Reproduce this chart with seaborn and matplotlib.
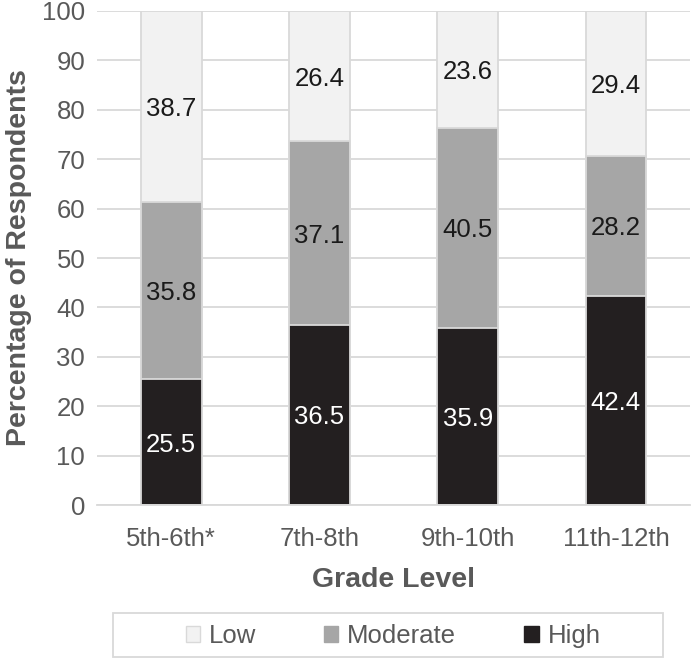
import numpy as np
import pandas as pd
import matplotlib
matplotlib.use('Agg')
import matplotlib.pyplot as plt
from matplotlib.patches import Patch, Rectangle
import seaborn as sns

# Data
grades = ['5th-6th*', '7th-8th', '9th-10th', '11th-12th']
high = [25.5, 36.5, 35.9, 42.4]
moderate = [35.8, 37.1, 40.5, 28.2]
low = [38.7, 26.4, 23.6, 29.4]

sns.set_style('white')
plt.rcParams['font.family'] = ['Liberation Sans', 'DejaVu Sans']

df = pd.DataFrame({'grade': grades, 'high': high, 'moderate': moderate, 'low': low})
df['mod_top'] = df['high'] + df['moderate']
df['low_top'] = df['mod_top'] + df['low']

c_low, c_mod, c_high = '#f2f2f2', '#a6a6a6', '#231f20'
edge = '#d9d9d9'
grey_txt = '#595959'
fs = 18.5

fig = plt.figure(figsize=(6.92, 6.58), dpi=100)
ax = fig.add_axes([0.1402, 0.2325, 0.857, 0.7508])

# stacked bars: draw cumulative totals back to front
sns.barplot(data=df, x='grade', y='low_top', color=c_low, width=0.41,
            edgecolor=edge, linewidth=1.3, ax=ax, saturation=1, zorder=2)
sns.barplot(data=df, x='grade', y='mod_top', color=c_mod, width=0.41,
            edgecolor=edge, linewidth=1.3, ax=ax, saturation=1, zorder=2)
sns.barplot(data=df, x='grade', y='high', color=c_high, width=0.41,
            edgecolor=edge, linewidth=1.3, ax=ax, saturation=1, zorder=2)

# segment labels
for i, row in df.iterrows():
    ax.text(i, row['high'] / 2, f"{row['high']:.1f}", ha='center', va='center_baseline',
            color='white', fontsize=fs, zorder=3)
    ax.text(i, row['high'] + row['moderate'] / 2, f"{row['moderate']:.1f}",
            ha='center', va='center_baseline', color='#1a1a1a', fontsize=fs, zorder=3)
    ax.text(i, row['mod_top'] + row['low'] / 2, f"{row['low']:.1f}",
            ha='center', va='center_baseline', color='#1a1a1a', fontsize=fs, zorder=3)

ax.set_ylim(0, 100)
ax.set_xlim(-0.5, 3.5)
ax.set_yticks(np.arange(0, 101, 10))
ax.yaxis.grid(True, color=edge, linewidth=1.3, zorder=0)
ax.set_axisbelow(True)
for s in ['top', 'right', 'left']:
    ax.spines[s].set_visible(False)
ax.spines['bottom'].set_color(edge)
ax.spines['bottom'].set_linewidth(1.3)
ax.tick_params(axis='both', colors=grey_txt, labelsize=fs, length=0)
ax.tick_params(axis='y', pad=8.5)
ax.tick_params(axis='x', pad=16)
ax.set_xlabel('Grade Level', fontsize=20.5, fontweight='bold', color=grey_txt, labelpad=11)
ax.set_ylabel('Percentage of Respondents', fontsize=20.5, fontweight='bold',
              color=grey_txt, labelpad=7)

# legend with a separate wider frame
fig.patches.append(Rectangle((0.1633, 0.0015), 0.7948, 0.0669, transform=fig.transFigure,
                             facecolor='none', edgecolor=edge, linewidth=1.3))
handles = [Patch(facecolor=c_low, edgecolor=edge, label='Low'),
           Patch(facecolor=c_mod, edgecolor=c_mod, label='Moderate'),
           Patch(facecolor=c_high, edgecolor=c_high, label='High')]
leg = fig.legend(handles=handles, loc='center', bbox_to_anchor=(0.568, 0.033),
                 ncol=3, frameon=False, fontsize=fs,
                 handlelength=0.55, handleheight=0.55, handletextpad=0.35,
                 columnspacing=2.65, borderpad=0.2)
for t in leg.get_texts():
    t.set_color(grey_txt)

fig.savefig('out.png', dpi=100)
